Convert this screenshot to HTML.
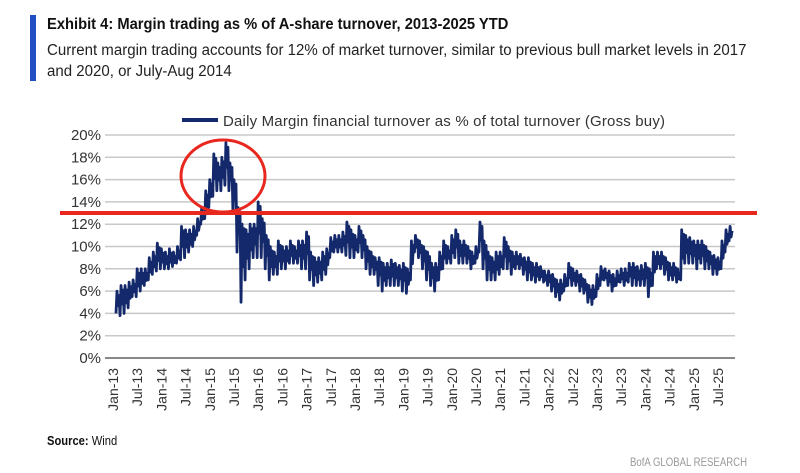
<!DOCTYPE html>
<html><head><meta charset="utf-8"><style>
body{margin:0;background:#fff;width:800px;height:473px;overflow:hidden;font-family:"Liberation Sans",sans-serif}
.t{position:absolute;white-space:nowrap;transform-origin:0 0}
</style></head><body>
<div style="position:absolute;left:30px;top:15px;width:6px;height:66px;background:#1f4fc1"></div>
<div class="t" style="left:47px;top:16px;font-size:16px;font-weight:bold;color:#111;transform:scaleX(0.92)">Exhibit 4: Margin trading as % of A-share turnover, 2013-2025 YTD</div>
<div class="t" style="left:47px;top:40px;font-size:15.5px;color:#222;line-height:21px;transform:scaleX(0.97)">Current margin trading accounts for 12% of market turnover, similar to previous bull market levels in 2017<br>and 2020, or July-Aug 2014</div>
<svg id="c" width="800" height="473" style="position:absolute;left:0;top:0"></svg>
<div class="t" style="left:47px;top:433px;font-size:13px;color:#111;transform:scaleX(0.86)"><b>Source:</b> Wind</div>
<div class="t" style="left:630px;top:455px;font-size:12px;color:#999;transform:scaleX(0.8)">BofA GLOBAL RESEARCH</div>
<script>
const tickLabels=["Jan-13","Jul-13","Jan-14","Jul-14","Jan-15","Jul-15","Jan-16","Jul-16","Jan-17","Jul-17","Jan-18","Jul-18","Jan-19","Jul-19","Jan-20","Jul-20","Jan-21","Jul-21","Jan-22","Jul-22","Jan-23","Jul-23","Jan-24","Jul-24","Jan-25","Jul-25"];
const yTicks=[0,2,4,6,8,10,12,14,16,18,20];
const lows=[4,3.8,4,4.5,5.5,5.5,6,6.5,7,7.5,7.8,8, 8,8,8.2,8.5,8.8,9,9.5,10,11,12,12.5,13.5, 14.5,15,15,15.5,15,13,9.5,5,7,8,9,9, 9,8,7,7.5,7.5,8,8,8.5,8.5,8.5,8,8, 7,6.5,6.8,7,7.5,9,9.5,9.5,9.5,9.2,9,9, 9.5,9,8,7.5,7.5,6.5,6,6.5,6.5,6.5,6.5,6, 5.8,7,9.5,9,8,7,6.5,6,7,8,8.5,8.5, 9,8.5,8.5,8.5,8,8.5,9.5,8,7,7,7,7.5, 8,8,7.5,8,8,7.5,7,7,6.8,7,6.8,6.5, 6,5.5,5.2,6,6.5,6.5,6.5,6,5.8,5,4.8,5.5, 6.5,7,6.5,6,6.5,6.8,6.5,6.8,6.5,6.5,6.5,6.5, 5.5,6.5,8,8,7.5,7,7,6.8,7,8.5,8.5,8.5, 8,8.5,8,8,7.5,7.5,8,9.5,10.5];
const highs=[6,6.5,6.5,6.8,7,8,8,8,9,9.5,10.3,9.8, 9.5,9.8,9.5,10,11.8,11.5,11.5,11.8,12.5,13.5,15,16, 18.3,17.5,18,19.3,17.5,16,13.5,12,11.5,12,12,14, 12.5,11,10,9.5,10.5,10,10,10.5,10,10.5,10.5,11.3, 9.5,9,9,9.5,9.8,10.8,11,11,11.3,12.2,11.5,11, 11.8,11,10,9.5,9,9,8.5,8.5,8.8,8.5,8.3,8.5, 8,10.5,11,10.5,10,9.5,8.5,8.5,9.5,10.5,10,11, 11.5,10.5,10.5,10,9.5,10,12.2,10.5,9.5,9,9.5,9.5, 10.8,10,9.5,9.5,9.3,9,9,8.5,8.5,8.2,7.8,7.8, 7.5,7,7,7.5,8.5,8,7.8,7.5,7,6.5,6.5,7.5, 8.2,8,7.8,7.5,7.8,8,8,8.5,8.5,8.2,8.3,8.5, 8,9.5,9.5,9.5,9,8.5,8.5,8,11.5,11,10.8,10.5, 10.5,10.5,10,9.5,9.2,9,10.5,11.5,11.8];
const ns="http://www.w3.org/2000/svg",svg=document.getElementById('c');
const x0=105,x1=735,yBase=358,yTop=135;
const yS=v=>yBase-(v/20)*(yBase-yTop);
const xM=m=>116+m*(24.2/6);
function mk(t,a){const e=document.createElementNS(ns,t);for(const k in a)e.setAttribute(k,a[k]);svg.appendChild(e);return e;}
yTicks.forEach(v=>{
 const g=mk('line',{x1:x0,x2:x1,y1:yS(v),y2:yS(v),stroke:v===0?'#888':'#c8c8c8','stroke-width':v===0?2:1.5});
 
 
 const t=mk('text',{x:101,y:yS(v)+5,'text-anchor':'end','font-size':15,fill:'#333'});t.textContent=v+'%';
 
 
});
tickLabels.forEach((l,i)=>{
 const x=113+i*24.2;
 const t=mk('text',{transform:`translate(${x+5},368) rotate(-90)`,'text-anchor':'end','font-size':14,fill:'#333'});t.textContent=l;
 
 
});
let pts=[];
lows.forEach((lo,m)=>{const hi=highs[m];
 pts.push([xM(m),yS(lo)],[xM(m+0.25),yS(hi)],[xM(m+0.5),yS((lo+hi)/2-0.3)],[xM(m+0.75),yS(hi-0.4)]);});
const p=mk('polyline',{points:pts.map(q=>q.join(',')).join(' '),fill:'none',stroke:'#14296b','stroke-width':2.8,'stroke-linejoin':'round'});


const ll=mk('line',{x1:182,x2:218,y1:120,y2:120,stroke:'#14296b','stroke-width':4});


const lt=mk('text',{x:223,y:126,'font-size':15,fill:'#333',textLength:442});lt.textContent='Daily Margin financial turnover as % of total turnover (Gross buy)';


const rl=mk('line',{x1:60,x2:757,y1:213,y2:213,stroke:'#e8281e','stroke-width':4});


const rc=mk('ellipse',{cx:223,cy:176,rx:42,ry:36,fill:'none',stroke:'#e8281e','stroke-width':3});


</script>
</body></html>
